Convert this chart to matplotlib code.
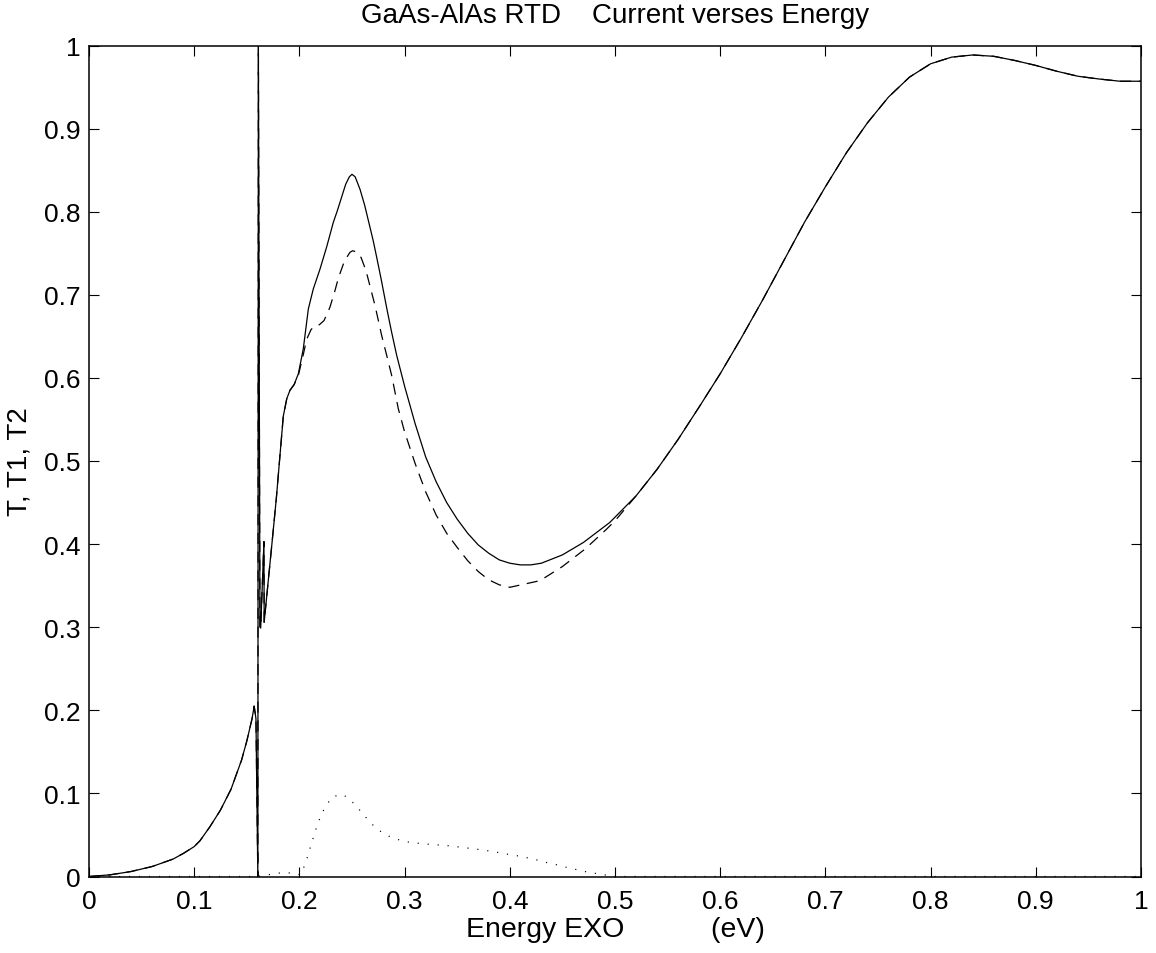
import matplotlib
matplotlib.use("Agg")
import matplotlib.pyplot as plt
import numpy as np

plt.rcParams['font.family'] = ['Liberation Sans', 'DejaVu Sans']
plt.rcParams['lines.scale_dashes'] = False

# ---- data ----
# T (solid)
t_x = [0.0, 0.02, 0.04, 0.06, 0.08, 0.09, 0.10, 0.1055, 0.115, 0.125, 0.135, 0.145,
       0.150, 0.155, 0.157, 0.1587, 0.1605, 0.1610, 0.1625, 0.1632, 0.1663,
       0.1665, 0.1737, 0.178, 0.1847, 0.188, 0.191, 0.195, 0.199, 0.2037, 0.2085,
       0.2132, 0.2196, 0.226, 0.2322, 0.236, 0.240, 0.244, 0.2475, 0.250, 0.253,
       0.2576, 0.262, 0.266, 0.270, 0.2735, 0.278, 0.283, 0.2875, 0.2925, 0.30, 0.31,
       0.32, 0.33, 0.34, 0.35, 0.36, 0.37, 0.38, 0.39, 0.40, 0.41, 0.42, 0.43, 0.45,
       0.47, 0.495, 0.52, 0.54, 0.56, 0.581, 0.60, 0.62, 0.64, 0.66, 0.68, 0.70, 0.72,
       0.74, 0.76, 0.78, 0.80, 0.82, 0.84, 0.86, 0.88, 0.90, 0.92, 0.94, 0.96, 0.98, 1.0]
t_y = [0.0, 0.002, 0.006, 0.012, 0.021, 0.028, 0.036, 0.043, 0.060, 0.080, 0.105, 0.140,
       0.163, 0.190, 0.205, 0.190, 0.0, 1.0, 0.30, 0.299, 0.403,
       0.306, 0.398, 0.454, 0.554, 0.575, 0.585, 0.592, 0.605, 0.635, 0.683,
       0.707, 0.731, 0.758, 0.787, 0.801, 0.817, 0.833, 0.842, 0.845, 0.842,
       0.827, 0.808, 0.787, 0.766, 0.745, 0.717, 0.684, 0.656, 0.627, 0.590, 0.545,
       0.505, 0.475, 0.450, 0.430, 0.413, 0.399, 0.389, 0.381, 0.377, 0.375, 0.375, 0.377, 0.387,
       0.402, 0.426, 0.458, 0.490, 0.526, 0.567, 0.605, 0.648, 0.693, 0.740, 0.787, 0.830, 0.871,
       0.907, 0.938, 0.962, 0.978, 0.986, 0.9886, 0.987, 0.982, 0.976, 0.969, 0.963, 0.9597, 0.957, 0.957]

# T1 (dashed)
t1_x = [0.0, 0.02, 0.04, 0.06, 0.08, 0.09, 0.10, 0.1055, 0.115, 0.125, 0.135, 0.145,
        0.150, 0.155, 0.157, 0.1587, 0.1605, 0.1610, 0.1625, 0.1632, 0.1663,
        0.1665, 0.1737, 0.178, 0.1847, 0.188, 0.191, 0.195, 0.199, 0.2037, 0.2068,
        0.2110, 0.2148, 0.2190, 0.2234, 0.229, 0.2338, 0.237, 0.2418, 0.2455, 0.248, 0.2505,
        0.2535, 0.2586, 0.2633, 0.267, 0.2719, 0.2782, 0.283, 0.2877, 0.294, 0.30, 0.31, 0.32,
        0.33, 0.34, 0.35, 0.36, 0.37, 0.38, 0.39, 0.40, 0.4287, 0.45, 0.4715, 0.492,
        0.50, 0.52, 0.54, 0.56, 0.581, 0.60, 0.62, 0.64, 0.66, 0.68, 0.70, 0.72,
        0.74, 0.76, 0.78, 0.80, 0.82, 0.84, 0.86, 0.88, 0.90, 0.92, 0.94, 0.96, 0.98, 1.0]
t1_y = [0.0, 0.002, 0.006, 0.012, 0.021, 0.028, 0.036, 0.043, 0.060, 0.080, 0.105, 0.140,
        0.163, 0.190, 0.205, 0.190, 0.0, 1.0, 0.30, 0.299, 0.403,
        0.306, 0.398, 0.454, 0.554, 0.575, 0.585, 0.592, 0.603, 0.628, 0.646,
        0.658, 0.663, 0.664, 0.669, 0.685, 0.705, 0.720, 0.737, 0.746, 0.751, 0.753,
        0.752, 0.745, 0.729, 0.711, 0.687, 0.651, 0.627, 0.603, 0.563, 0.535, 0.497, 0.463,
        0.435, 0.413, 0.396, 0.380, 0.367, 0.357, 0.351, 0.348, 0.356, 0.373, 0.394, 0.418,
        0.428, 0.458, 0.490, 0.526, 0.567, 0.605, 0.648, 0.693, 0.740, 0.787, 0.830, 0.871,
        0.907, 0.938, 0.962, 0.978, 0.986, 0.9886, 0.987, 0.982, 0.976, 0.969, 0.963, 0.9597, 0.957, 0.957]

# T2 (dotted)
t2_x = [0.0, 0.16, 0.1841, 0.1936, 0.2012, 0.2053, 0.2085, 0.2113, 0.2142, 0.2174,
        0.2212, 0.2259, 0.2319, 0.2415, 0.2494, 0.2563, 0.263, 0.2697, 0.2773, 0.2862,
        0.2957, 0.3057, 0.3156, 0.3254, 0.3355, 0.3457, 0.3555, 0.3656, 0.3755, 0.3856,
        0.3954, 0.4056, 0.4154, 0.4252, 0.4351, 0.4449, 0.4547, 0.4645, 0.475, 0.49,
        0.50, 0.6, 1.0]
t2_y = [0.0, 0.0, 0.0048, 0.004, 0.002, 0.0144, 0.0269, 0.0389, 0.051, 0.0634,
        0.0754, 0.0866, 0.0963, 0.0987, 0.091, 0.0814, 0.0714, 0.0622, 0.0542, 0.0477,
        0.0437, 0.0409, 0.0397, 0.0385, 0.0377, 0.0365, 0.0349, 0.0333, 0.0317, 0.0297,
        0.0273, 0.0253, 0.0229, 0.0201, 0.0168, 0.014, 0.0108, 0.008, 0.005, 0.002,
        0.0, 0.0, 0.0]

xticks = [0, 0.1, 0.2, 0.3, 0.4, 0.5, 0.6, 0.7, 0.8, 0.9, 1]
xticklabels = ['0', '0.1', '0.2', '0.3', '0.4', '0.5', '0.6', '0.7', '0.8', '0.9', '1']
yticks = [0, 0.1, 0.2, 0.3, 0.4, 0.5, 0.6, 0.7, 0.8, 0.9, 1]
yticklabels = ['0', '0.1', '0.2', '0.3', '0.4', '0.5', '0.6', '0.7', '0.8', '0.9', '1']

fig = plt.figure(figsize=(11.56, 9.54), dpi=100)
ax = fig.add_axes([89/1156, 1-877.5/954, (1141-89)/1156, (877.5-46.5)/954])

ax.plot(t1_x, t1_y, color='black', lw=0.9, linestyle=(0, (8.0, 5.5)))
ax.plot(t2_x, t2_y, color='black', lw=0.9, linestyle=(0, (0.8, 6.4)))
ax.plot(t_x, t_y, color='black', lw=0.9, linestyle='-')

ax.set_xlim(0, 1)
ax.set_ylim(0, 1)
ax.set_xticks(xticks)
ax.set_xticklabels(xticklabels)
ax.set_yticks(yticks)
ax.set_yticklabels(yticklabels)
ax.tick_params(direction='in', top=True, right=True, length=7, width=0.8,
               labelsize=19, pad=6)
ax.tick_params(axis='x', pad=9)
for s in ax.spines.values():
    s.set_linewidth(1.1)

ax.set_title('GaAs-AlAs RTD    Current verses Energy', fontsize=20, pad=17)
ax.set_xlabel('Energy EXO           (eV)', fontsize=20.5, labelpad=2)
ax.set_ylabel('T, T1, T2', fontsize=20, labelpad=8)

fig.savefig('out.png', dpi=100)
